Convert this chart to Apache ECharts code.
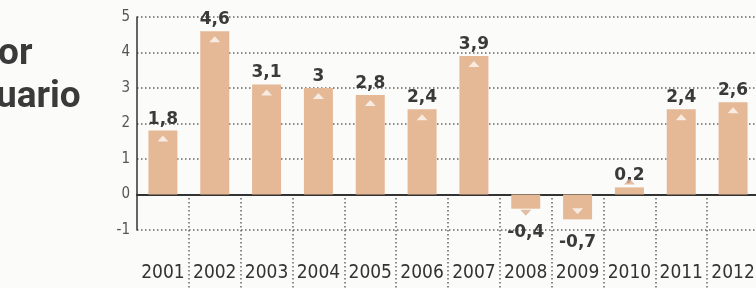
<!DOCTYPE html>
<html>
<head>
<meta charset="utf-8">
<style>
  html, body { margin: 0; padding: 0; background: #fbfbf9; }
  #chart { width: 756px; height: 288px; }
</style>
<script src="https://cdn.jsdelivr.net/npm/echarts@6/dist/echarts.min.js"></script>
</head>
<body>
<div id="chart"></div>
<script>
const years = ['2001', '2002', '2003', '2004', '2005', '2006', '2007', '2008', '2009', '2010', '2011', '2012']
const growth = [1.8, 4.6, 3.1, 3, 2.8, 2.4, 3.9, -0.4, -0.7, 0.2, 2.4, 2.6]
const titleLines = ['or', 'uario']

const barColor = '#e5b896'
const ink = '#3a3a3a'
const dotted = { color: '#666', width: 1.5, type: [1.5, 2.5] }

function formatValue(v) {
  return String(v).replace('.', ',')
}

// bar items: labels above positive bars, below negative ones
const barData = growth.map((v) => ({
  value: v,
  label: v >= 0
    ? { position: 'top', distance: 3 }
    : { position: 'bottom', distance: 15 }
}))

// little arrow marks, inside the bar when it is tall enough
const arrowData = growth.map((v) => {
  const small = Math.abs(v) < 0.5
  const up = v >= 0
  let offset
  if (up) offset = small ? -6 : 8
  else offset = small ? 4 : -8
  return {
    value: v,
    symbolRotate: up ? 0 : 180,
    symbolOffset: [0, offset],
    itemStyle: { color: small ? '#d9ae8e' : 'rgba(255,255,255,0.9)' }
  }
})

const chart = echarts.init(document.getElementById('chart'))

chart.setOption({
  animation: false,
  grid: [
    { left: 137, right: -3, top: 17, bottom: 58, outerBoundsMode: 'none', containLabel: false },
    // strip under the zero line, only for the year separators
    { left: 137, right: -3, top: 198, bottom: 0, outerBoundsMode: 'none', containLabel: false }
  ],
  graphic: [
    {
      type: 'text', left: -2, top: 36,
      style: { text: titleLines[0], font: 'bold 37px Roboto', fill: ink }
    },
    {
      type: 'text', left: -4, top: 79,
      style: { text: titleLines[1], font: 'bold 37px Roboto', fill: ink }
    }
  ],
  xAxis: [
    {
      type: 'category',
      data: years,
      axisLine: { onZero: true, lineStyle: { color: '#333', width: 2 } },
      axisTick: { show: false },
      axisLabel: {
        interval: 0,
        margin: 34,
        fontSize: 19,
        color: '#333',
        fontFamily: '"Liberation Sans Narrow", "DejaVu Sans Condensed", sans-serif'
      }
    },
    {
      type: 'category',
      gridIndex: 1,
      data: years,
      axisLine: { show: false },
      axisTick: { show: false },
      axisLabel: { show: false },
      splitLine: { show: true, interval: (i) => i > 0, lineStyle: dotted }
    }
  ],
  yAxis: [
    {
      type: 'value',
      min: -1,
      max: 5,
      interval: 1,
      axisLine: { show: true, lineStyle: { color: '#333', width: 1.5 } },
      axisTick: { show: false },
      axisLabel: {
        margin: 7,
        fontSize: 15,
        color: '#555',
        fontFamily: '"DejaVu Sans Condensed", sans-serif'
      },
      splitLine: { lineStyle: dotted }
    },
    { type: 'value', gridIndex: 1, show: false, splitLine: { show: false } }
  ],
  series: [
    {
      type: 'bar',
      barWidth: 29,
      itemStyle: { color: barColor },
      label: {
        show: true,
        formatter: (p) => formatValue(p.value),
        fontFamily: '"DejaVu Sans", sans-serif',
        fontWeight: 'bold',
        fontSize: 17,
        color: ink
      },
      data: barData,
      z: 2
    },
    {
      type: 'scatter',
      symbol: 'triangle',
      symbolSize: [11, 6],
      silent: true,
      data: arrowData,
      z: 3
    }
  ]
})
</script>
</body>
</html>
